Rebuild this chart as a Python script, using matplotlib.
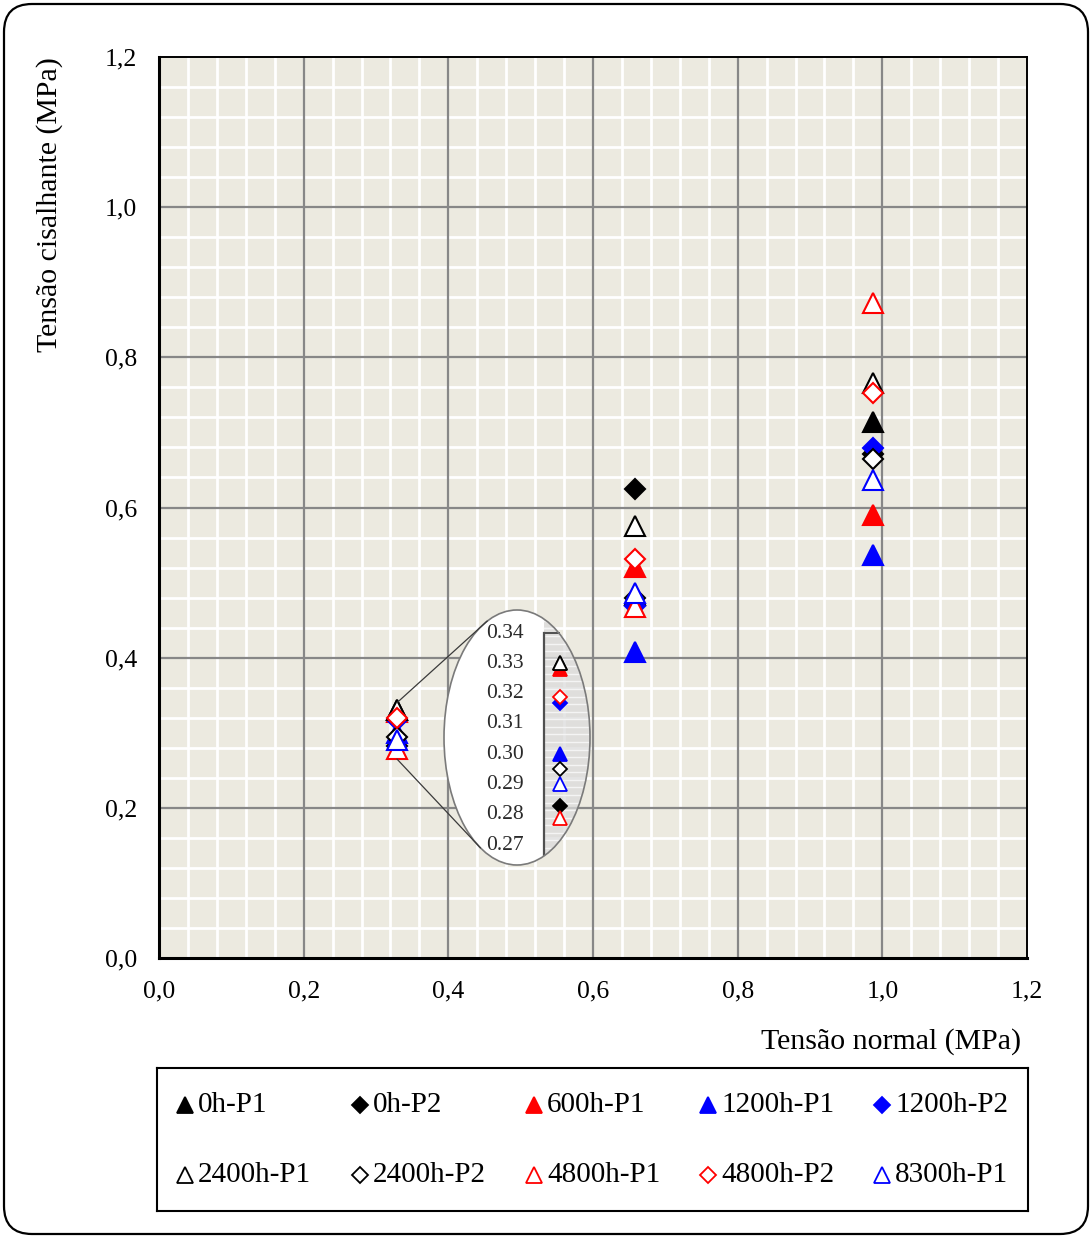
import numpy as np
import matplotlib
matplotlib.use("Agg")
import matplotlib.pyplot as plt
from matplotlib.patches import Ellipse, Rectangle, FancyBboxPatch, ConnectionPatch
from matplotlib.ticker import MultipleLocator, FixedLocator, FixedFormatter
from matplotlib.transforms import IdentityTransform

plt.rcParams['font.family'] = ['Liberation Serif', 'DejaVu Serif']

# ---- data -------------------------------------------------------------
normal_stress = [0.329, 0.658, 0.987]

series_names = ['0h-P1', '0h-P2', '600h-P1', '1200h-P1', '1200h-P2',
                '2400h-P1', '2400h-P2', '4800h-P1', '4800h-P2', '8300h-P1']

shear_0h_p1 = [0.330, 0.483, 0.714]
shear_0h_p2 = [0.283, 0.625, 0.671]
shear_600h_p1 = [0.328, 0.521, 0.590]
shear_1200h_p1 = [0.300, 0.408, 0.537]
shear_1200h_p2 = [0.317, 0.469, 0.679]
shear_2400h_p1 = [0.330, 0.575, 0.766]
shear_2400h_p2 = [0.295, 0.479, 0.665]
shear_4800h_p1 = [0.279, 0.468, 0.872]
shear_4800h_p2 = [0.319, 0.532, 0.752]
shear_8300h_p1 = [0.290, 0.486, 0.637]

shear_values = [shear_0h_p1, shear_0h_p2, shear_600h_p1, shear_1200h_p1,
                shear_1200h_p2, shear_2400h_p1, shear_2400h_p2,
                shear_4800h_p1, shear_4800h_p2, shear_8300h_p1]

axis_ticks = [0.0, 0.2, 0.4, 0.6, 0.8, 1.0, 1.2]
axis_tick_labels = ['0,0', '0,2', '0,4', '0,6', '0,8', '1,0', '1,2']
zoom_ticks = [0.34, 0.33, 0.32, 0.31, 0.30, 0.29, 0.28, 0.27]
zoom_tick_labels = ['0.34', '0.33', '0.32', '0.31', '0.30', '0.29', '0.28', '0.27']

# ---- marker styles ----------------------------------------------------
RED, BLUE, BLACK, WHITE = '#FF0000', '#0000FF', '#000000', '#FFFFFF'
styles = [
    dict(marker='^', mfc=BLACK, mec=BLACK),
    dict(marker='D', mfc=BLACK, mec=BLACK),
    dict(marker='^', mfc=RED, mec=RED),
    dict(marker='^', mfc=BLUE, mec=BLUE),
    dict(marker='D', mfc=BLUE, mec=BLUE),
    dict(marker='^', mfc=WHITE, mec=BLACK),
    dict(marker='D', mfc=WHITE, mec=BLACK),
    dict(marker='^', mfc=WHITE, mec=RED),
    dict(marker='D', mfc=WHITE, mec=RED),
    dict(marker='^', mfc=WHITE, mec=BLUE),
]


def msize(style, tri, dia):
    return tri if style['marker'] == '^' else dia


W, H = 1092, 1238
fig = plt.figure(figsize=(W / 100, H / 100), dpi=100)
fig.patch.set_facecolor('white')


def px_box(x0, y0, x1, y1):
    """Figure-fraction rectangle from pixel edges (top-left origin)."""
    return [x0 / W, 1 - y1 / H, (x1 - x0) / W, (y1 - y0) / H]


# rounded frame around the whole figure
frame = FancyBboxPatch((4, 4), W - 8, H - 8,
                       boxstyle="round,pad=0,rounding_size=28",
                       transform=IdentityTransform(), fill=False,
                       edgecolor='black', linewidth=1.6)
fig.add_artist(frame)

# ---- main axes --------------------------------------------------------
ax = fig.add_axes(px_box(159, 57, 1027, 958))
ax.set_facecolor('#ECEAE0')
ax.set_xlim(0, 1.2)
ax.set_ylim(0, 1.2)
ax.set_axisbelow(True)
ax.xaxis.set_major_locator(FixedLocator(axis_ticks))
ax.yaxis.set_major_locator(FixedLocator(axis_ticks))
ax.xaxis.set_major_formatter(FixedFormatter(axis_tick_labels))
ax.yaxis.set_major_formatter(FixedFormatter(axis_tick_labels))
ax.xaxis.set_minor_locator(MultipleLocator(0.04))
ax.yaxis.set_minor_locator(MultipleLocator(0.04))
ax.grid(which='minor', color='white', linewidth=2.0)
for t in axis_ticks[1:-1]:
    ax.axvline(t, color='#878787', linewidth=1.6, zorder=0.6)
    ax.axhline(t, color='#878787', linewidth=1.6, zorder=0.6)
ax.tick_params(which='both', length=0)
ax.tick_params(axis='y', pad=16, labelsize=18.5)
ax.tick_params(axis='x', pad=16, labelsize=18.5)
for side, lw in [('left', 2.2), ('bottom', 2.2), ('top', 1.4), ('right', 1.4)]:
    ax.spines[side].set_color('black')
    ax.spines[side].set_linewidth(lw)

for vals, st in zip(shear_values, styles):
    ax.plot(normal_stress, vals, linestyle='none', marker=st['marker'],
            markerfacecolor=st['mfc'], markeredgecolor=st['mec'],
            markersize=msize(st, 14, 10), markeredgewidth=1.5, zorder=3)

fig.text(50 / W, 1 - 205 / H, 'Tensão cisalhante (MPa)', rotation=90,
         ha='center', va='center', fontsize=21.5)
fig.text(1021 / W, 1 - 1042 / H, 'Tensão normal (MPa)',
         ha='right', va='center', fontsize=21.5)

# ---- magnified view of the lowest normal-stress level -----------------
axi = fig.add_axes(px_box(444, 610, 590, 865))
axi.set_xlim(0, 1)
y_per_px = 0.07 / 212.0
axi.set_ylim(0.27 - 20 * y_per_px, 0.34 + 23 * y_per_px)
axi.axis('off')

ell = Ellipse((0.5, 0.5), 1, 1, transform=axi.transAxes,
              facecolor='none', edgecolor='none')
axi.add_patch(ell)
panel_x = 0.685
white_part = Rectangle((0, 0), panel_x, 1, transform=axi.transAxes,
                       facecolor='white', edgecolor='none', zorder=1)
white_part.set_clip_path(ell)
axi.add_patch(white_part)
panel = Rectangle((panel_x, 0), 1 - panel_x, 1, transform=axi.transAxes,
                  facecolor=(0.86, 0.86, 0.86, 0.75), edgecolor='none', zorder=1)
panel.set_clip_path(ell)
axi.add_patch(panel)
for yy in np.arange(0.264, 0.348, 0.0025):
    ln, = axi.plot([panel_x, 1], [yy, yy], color='#F4F4F4', linewidth=1.0,
                   transform=axi.get_yaxis_transform(), zorder=1.5)
    ln.set_clip_path(ell)
outline = Ellipse((0.5, 0.5), 1, 1, transform=axi.transAxes,
                  facecolor='none', edgecolor='#7A7A7A', linewidth=1.2,
                  zorder=4, clip_on=False)
axi.add_patch(outline)

ytr = axi.get_yaxis_transform()
axi.plot([panel_x, panel_x], [0.27 - 10 * y_per_px, 0.34], color='#505050',
         linewidth=1.6, transform=ytr, zorder=2, clip_on=False)
axi.plot([panel_x, panel_x + 0.1], [0.34, 0.34], color='#505050',
         linewidth=1.4, transform=ytr, zorder=2, clip_on=False)
for v, lab in zip(zoom_ticks, zoom_tick_labels):
    axi.text(0.545, v, lab, transform=ytr, ha='right', va='center',
             fontsize=15.5, color='#2A2A2A', zorder=3)

zoom_x = 0.795
for vals, st in zip(shear_values, styles):
    axi.plot([zoom_x], [vals[0]], linestyle='none', marker=st['marker'],
             markerfacecolor=st['mfc'], markeredgecolor=st['mec'],
             markersize=msize(st, 10, 7), markeredgewidth=1.3, zorder=3,
             clip_on=False)

# leader lines from the cluster to the magnified view
for y_data, ang in [(0.34, 114), (0.265, -120)]:
    a = np.deg2rad(ang)
    con = ConnectionPatch(xyA=(normal_stress[0], y_data), coordsA=ax.transData,
                          xyB=(0.5 + 0.5 * np.cos(a), 0.5 + 0.5 * np.sin(a)),
                          coordsB=axi.transAxes, color='#3A3A3A',
                          linewidth=0.9)
    fig.add_artist(con)

# ---- legend box -------------------------------------------------------
axl = fig.add_axes(px_box(157, 1068, 1028, 1211))
axl.set_xlim(157, 1028)
axl.set_ylim(1211, 1068)
axl.set_xticks([])
axl.set_yticks([])
for sp in axl.spines.values():
    sp.set_color('black')
    sp.set_linewidth(1.5)
col_x = [185, 360, 534, 708, 882]
row_y = [1105, 1175]
for i, (name, st) in enumerate(zip(series_names, styles)):
    cx = col_x[i % 5]
    cy = row_y[i // 5]
    axl.plot([cx], [cy], linestyle='none', marker=st['marker'],
             markerfacecolor=st['mfc'], markeredgecolor=st['mec'],
             markersize=msize(st, 11, 8), markeredgewidth=1.3)
    axl.text(cx + 13, cy, name, ha='left', va='center', fontsize=21)

fig.savefig('out.png', dpi=100)
